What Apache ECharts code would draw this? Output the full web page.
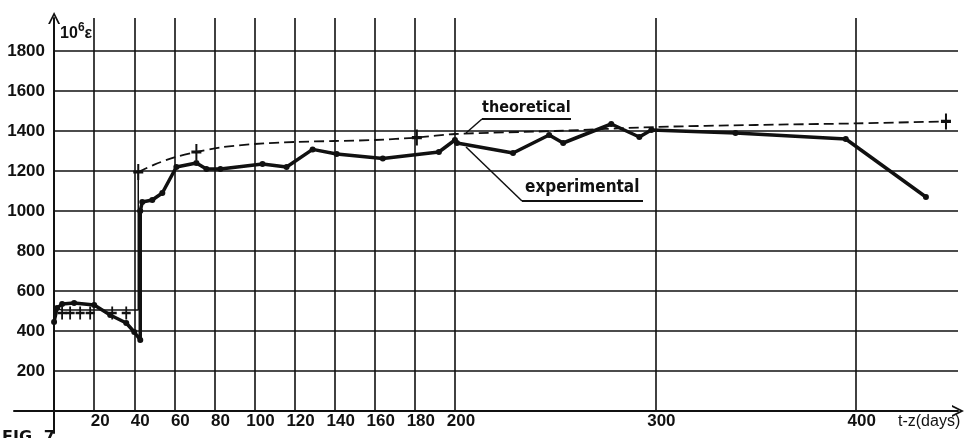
<!DOCTYPE html>
<html>
<head>
<meta charset="utf-8">
<script src="https://cdn.jsdelivr.net/npm/echarts@6/dist/echarts.min.js"></script>
<style>
  html, body { margin: 0; padding: 0; background: #fff; }
  #chart { width: 977px; height: 438px; }
</style>
</head>
<body>
<div id="chart"></div>
<script>
// tick / grid positions
var xGrid = [20, 40, 60, 80, 100, 120, 140, 160, 180, 200, 300, 400];
var yGrid = [200, 400, 600, 800, 1000, 1200, 1400, 1600, 1800];

// experimental strain (10^-6), t-z in days
var expDays = [0, 1.5, 4, 10, 20, 28, 36, 40, 43, 43, 44, 49, 54, 61, 71, 76, 83, 104, 116, 129, 141, 164, 192, 200, 201, 229, 247, 254, 278, 292, 298, 340, 395, 435];
var expVals = [445, 515, 535, 540, 530, 480, 440, 395, 355, 1000, 1045, 1055, 1090, 1220, 1240, 1210, 1210, 1235, 1220, 1308, 1285, 1262, 1295, 1355, 1340, 1290, 1380, 1340, 1435, 1370, 1405, 1390, 1360, 1070];

// theoretical strain, before and after loading at day 42
var theoEarlyDays = [2, 4, 8, 13, 18, 21, 29, 36, 42, 42];
var theoEarlyVals = [510, 505, 505, 505, 505, 505, 505, 505, 505, 1195];
var theoEarlyMarks = [4, 8, 13, 18, 29, 36];

var theoLateDays = [42, 50, 60, 71, 83, 100, 120, 140, 160, 181, 200, 250, 300, 350, 400, 445];
var theoLateVals = [1195, 1232, 1268, 1295, 1318, 1335, 1345, 1350, 1355, 1367, 1385, 1400, 1420, 1430, 1438, 1448];
var theoLateMarks = [42, 71, 181, 445];

var xMin = -20, xMax = 451;
var yMin = -110, yMax = 1965;

function pairs(xs, ys) { return xs.map(function (x, i) { return [x, ys[i]]; }); }

var plus = 'path://M4,0 H6 V4 H10 V6 H6 V10 H4 V6 H0 V4 H4 Z';
var chevron = 'path://M0,10 L5,0 L10,10 L8.4,10 L5,3.2 L1.6,10 Z';
var font = '"Liberation Sans", Arial, sans-serif';

var gridLines = [];
xGrid.forEach(function (v) { gridLines.push([{ coord: [v, 0] }, { coord: [v, yMax] }]); });
yGrid.forEach(function (v) { gridLines.push([{ coord: [0, v] }, { coord: [xMax, v] }]); });

var chart = echarts.init(document.getElementById('chart'));
chart.setOption({
  animation: false,
  backgroundColor: '#fff',
  grid: { left: 14, right: 19, top: 18, bottom: 5, containLabel: false, outerBoundsMode: 'none' },
  xAxis: {
    type: 'value',
    min: xMin,
    max: xMax,
    splitLine: { show: false },
    axisLine: {
      onZero: true,
      symbol: ['none', chevron],
      symbolSize: [12, 14],
      lineStyle: { color: '#111', width: 2 }
    },
    axisTick: { show: false },
    axisLabel: {
      customValues: xGrid,
      margin: -20,
      padding: [0, 0, 0, 12],
      color: '#111',
      fontFamily: font,
      fontWeight: 'bold',
      fontSize: 17,
      formatter: function (v) { return String(v); }
    },
    name: 't-z(days)',
    nameLocation: 'end',
    nameGap: -60,
    nameTextStyle: {
      align: 'left',
      verticalAlign: 'top',
      padding: [3, 0, 0, 0],
      color: '#111',
      fontFamily: font,
      fontSize: 16
    }
  },
  yAxis: {
    type: 'value',
    min: yMin,
    max: yMax,
    splitLine: { show: false },
    axisLine: {
      onZero: true,
      symbol: ['none', chevron],
      symbolSize: [12, 14],
      lineStyle: { color: '#111', width: 2 }
    },
    axisTick: { show: false },
    axisLabel: {
      customValues: yGrid,
      margin: -31,
      color: '#111',
      fontFamily: font,
      fontWeight: 'bold',
      fontSize: 17,
      formatter: function (v) { return String(v); }
    },
    name: '{b|10}{s|6}{b|ε}',
    nameLocation: 'end',
    nameGap: -4,
    nameTextStyle: {
      align: 'left',
      verticalAlign: 'top',
      padding: [0, 0, 0, 6],
      rich: {
        b: { fontFamily: font, fontWeight: 'bold', fontSize: 16, color: '#111', verticalAlign: 'bottom' },
        s: { fontFamily: font, fontWeight: 'bold', fontSize: 12, color: '#111', verticalAlign: 'top', padding: [0, 0, 8, 0] }
      }
    }
  },
  series: [
    {
      type: 'line',
      data: [],
      z: 1,
      silent: true,
      markLine: {
        silent: true,
        symbol: 'none',
        animation: false,
        label: { show: false },
        lineStyle: { color: '#111', width: 1.6, type: 'solid' },
        data: gridLines
      }
    },
    {
      name: 'theoretical early',
      type: 'line',
      z: 3,
      data: pairs(theoEarlyDays, theoEarlyVals),
      lineStyle: { color: '#111', width: 1.5 },
      itemStyle: { color: '#111' },
      symbol: function (v) { return theoEarlyMarks.indexOf(v[0]) >= 0 ? plus : 'none'; },
      symbolSize: [9, 13],
      symbolOffset: [0, 3]
    },
    {
      name: 'theoretical',
      type: 'line',
      z: 3,
      data: pairs(theoLateDays, theoLateVals),
      smooth: 0.3,
      lineStyle: { color: '#111', width: 1.8, type: [10, 5] },
      itemStyle: { color: '#111' },
      symbol: function (v) { return theoLateMarks.indexOf(v[0]) >= 0 ? plus : 'none'; },
      symbolSize: [10, 16]
    },
    {
      name: 'experimental',
      type: 'line',
      z: 4,
      data: pairs(expDays, expVals),
      lineStyle: { color: '#111', width: 3.5 },
      itemStyle: { color: '#111' },
      symbol: 'circle',
      symbolSize: 6
    }
  ],
  graphic: [
    { type: 'line', shape: { x1: 466, y1: 133, x2: 482, y2: 119 }, style: { stroke: '#111', lineWidth: 1.5 } },
    { type: 'line', shape: { x1: 482, y1: 119, x2: 571, y2: 119 }, style: { stroke: '#111', lineWidth: 2 } },
    { type: 'text', left: 482, top: 100, style: { text: 'theoretical', font: 'bold 16px "DejaVu Sans Condensed", sans-serif', fill: '#111' } },
    { type: 'line', shape: { x1: 466, y1: 147, x2: 522, y2: 201 }, style: { stroke: '#111', lineWidth: 1.5 } },
    { type: 'line', shape: { x1: 522, y1: 201, x2: 643, y2: 201 }, style: { stroke: '#111', lineWidth: 2 } },
    { type: 'text', left: 525, top: 179, style: { text: 'experimental', font: 'bold 17px "DejaVu Sans Condensed", sans-serif', fill: '#111' } },
    { type: 'text', left: 2, top: 430, style: { text: 'FIG. 7', font: 'bold 16px "DejaVu Sans", sans-serif', fill: '#111' } }
  ]
});
</script>
</body>
</html>
